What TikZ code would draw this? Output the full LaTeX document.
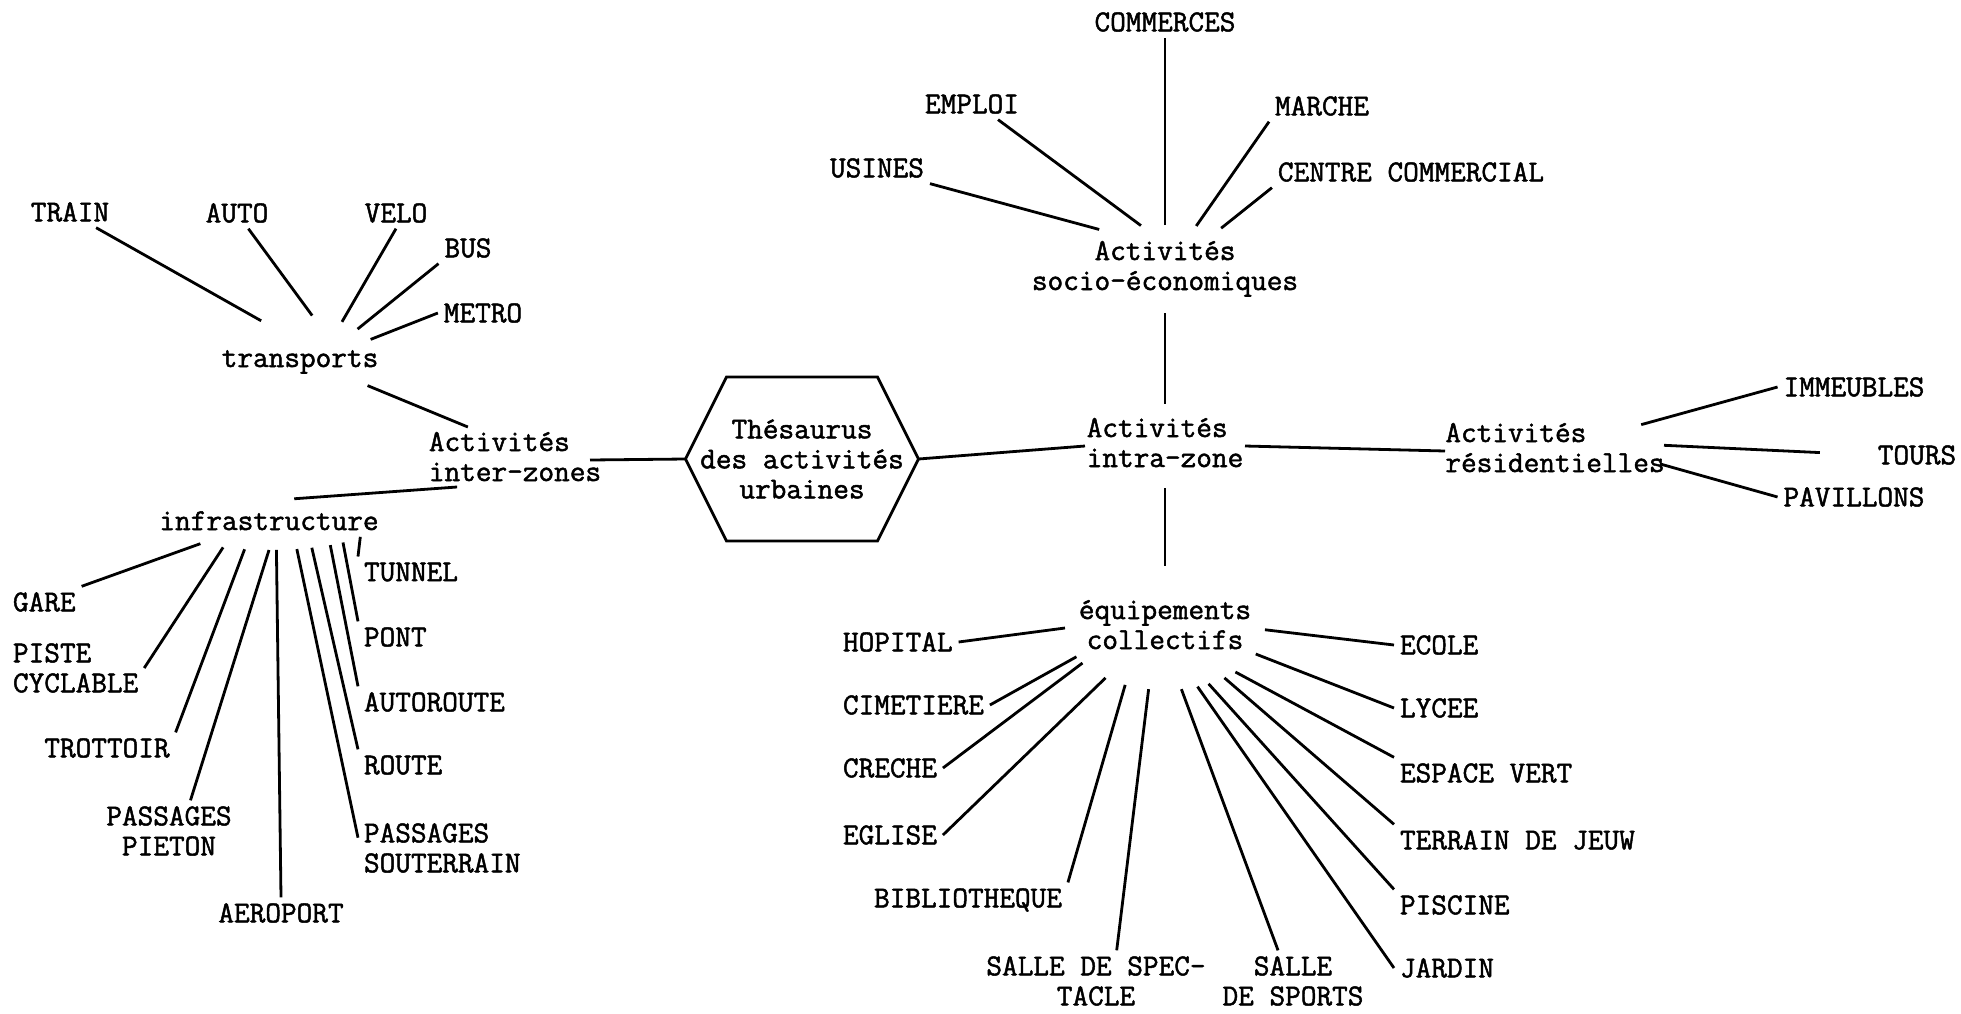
\documentclass[tikz,border=0pt]{standalone}
\usepackage{fontspec}
\newfontfamily\typewriter[FakeBold=1.6]{Latin Modern Mono}
\usetikzlibrary{shapes.geometric}
\newcommand{\hubtext}[2][c]{\makebox[0pt]{\begin{tabular}{@{}#1@{}}#2\end{tabular}}}

\begin{document}
\begin{tikzpicture}[x=0.5pt,y=0.5pt,yscale=-1,xscale=1,
  every node/.style={font=\fontsize{15.2}{15}\typewriter, outer sep=0pt},
  leaf/.style={inner sep=3pt},
  hub/.style={ellipse, inner sep=0pt},
  link/.style={line width=1.4pt},
  thinlink/.style={line width=0.9pt}]
\useasboundingbox (0,0) rectangle (1961,1013);

% Text Node
\node[hub, minimum width=80pt, minimum height=46pt] (transports) at (300,361) {\hubtext{transports}};
% Text Node
\node[hub, minimum width=75pt, minimum height=40pt] (inter) at (515,460) {\hubtext[l]{Activités\\inter-zones}};
% Text Node
\node[hub, minimum width=105pt, minimum height=26pt] (infra) at (269,524) {\hubtext{infrastructure}};
% Text Node
\node[minimum width=116.5pt, minimum height=82pt, align=center] (thes) at (802,459) {Thésaurus\\des activités\\urbaines};
% Text Node
\node[hub, minimum width=150pt, minimum height=44pt] (socio) at (1165,269) {\hubtext{Activités\\socio-économiques}};
% Text Node
\node[hub, minimum width=80pt, minimum height=37pt] (intra) at (1165,446) {\hubtext[l]{Activités\\intra-zone}};
% Text Node
\node[hub, minimum width=110pt, minimum height=30pt] (resid) at (1555,451) {\hubtext[l]{Activités\\résidentielles}};
% Text Node
\node[hub, minimum width=100pt, minimum height=62pt] (equip) at (1165,628) {\hubtext{équipements\\collectifs}};

% Text Node
\node[leaf] (train) at (70,212) {TRAIN};
\node[leaf] (auto) at (237,213) {AUTO};
\node[leaf] (velo) at (396,213) {VELO};
\node[leaf] (bus) at (468,248) {BUS};
\node[leaf] (metro) at (483,313) {METRO};
% Text Node
\node[leaf, anchor=west] (gare) at (7,602) {GARE};
\node[leaf, anchor=west, align=left] (piste) at (7,668) {PISTE\\CYCLABLE};
\node[leaf] (trottoir) at (107,748) {TROTTOIR};
\node[leaf, align=center] (pieton) at (169,831) {PASSAGES\\PIETON};
\node[leaf] (aeroport) at (281,913) {AEROPORT};
\node[leaf, anchor=west] (tunnel) at (358,572) {TUNNEL};
\node[leaf, anchor=west] (pont) at (358,637) {PONT};
\node[leaf, anchor=west] (autoroute) at (358,702) {AUTOROUTE};
\node[leaf, anchor=west] (route) at (358,765) {ROUTE};
\node[leaf, anchor=west, align=left] (souterrain) at (358,848) {PASSAGES\\SOUTERRAIN};
% Text Node
\node[leaf] (commerces) at (1165,22) {COMMERCES};
\node[leaf] (emploi) at (972,104) {EMPLOI};
\node[leaf] (marche) at (1322,106) {MARCHE};
\node[leaf] (usines) at (877,168) {USINES};
\node[leaf] (centre) at (1411,172) {CENTRE COMMERCIAL};
% Text Node
\node[leaf] (immeubles) at (1854,387) {IMMEUBLES};
\node[leaf] (tours) at (1917,455) {TOURS};
\node[leaf] (pavillons) at (1854,497) {PAVILLONS};
% Text Node
\node[leaf, anchor=west] (hopital) at (837,642) {HOPITAL};
\node[leaf, anchor=west] (cimetiere) at (837,705) {CIMETIERE};
\node[leaf, anchor=west] (creche) at (837,768) {CRECHE};
\node[leaf, anchor=west] (eglise) at (837,835) {EGLISE};
\node[leaf] (biblio) at (968,900) {BIBLIOTHEQUE};
\node[leaf, align=center] (spectacle) at (1096,981) {SALLE DE SPEC-\\TACLE};
\node[leaf, align=center] (sports) at (1293,981) {SALLE\\DE SPORTS};
\node[leaf, anchor=west] (ecole) at (1394,645) {ECOLE};
\node[leaf, anchor=west] (lycee) at (1394,708) {LYCEE};
\node[leaf, anchor=west] (espace) at (1394,773) {ESPACE VERT};
\node[leaf, anchor=west] (terrain) at (1394,840) {TERRAIN DE JEUW};
\node[leaf, anchor=west] (piscine) at (1394,905) {PISCINE};
\node[leaf, anchor=west] (jardin) at (1394,968) {JARDIN};

%Shape: Hexagon
\draw[link] (thes.west) -- ([xshift=20.5pt]thes.north west) -- ([xshift=-20.5pt]thes.north east) -- (thes.east) -- ([xshift=-20.5pt]thes.south east) -- ([xshift=20.5pt]thes.south west) -- cycle;

%Straight Lines
\draw[link] (transports.134) -- (train.-31);
\draw[link] (transports.75) -- (auto.-54);
\draw[link] (transports.43) -- (velo.south);
\draw[link] (transports.29) -- (bus.south west);
\draw[link] (transports.17) -- (metro.west);
\draw[link] (transports.-20) -- (inter.145);
\draw[link] (inter.205) -- (infra.45);
\draw[link] (inter.east) -- (thes.west);
%Straight Lines
\draw[link] (infra.196) -- (gare.north east);
\draw[link] (infra.207) -- (piste.east);
\draw[link] (infra.226) -- (trottoir.north east);
\draw[link] (infra.270) -- (pieton.55);
\draw[link] (infra.286) -- (aeroport.north);
\draw[link] (infra.318) -- (souterrain.173);
\draw[link] (infra.331) -- (route.north west);
\draw[link] (infra.341) -- (autoroute.north west);
\draw[link] (infra.346) -- (pont.north west);
\draw[link] (infra.352) -- (tunnel.north west);
%Straight Lines
\draw[thinlink] (socio.north) -- (commerces.south);
\draw[link] (socio.119) -- (emploi.-31);
\draw[link] (socio.149) -- (usines.south east);
\draw[link] (socio.54) -- (marche.south west);
\draw[link] (socio.36) -- (centre.south west);
\draw[thinlink] (socio.south) -- (intra.north);
\draw[thinlink] (intra.south) -- (equip.north);
\draw[link] (thes.east) -- (intra.west);
\draw[link] (intra.east) -- (resid.west);
%Straight Lines
\draw[link] (resid.17) -- (immeubles.west);
\draw[link, shorten >=26pt] (resid.3) -- (tours.west);
\draw[link] (resid.-7) -- (pavillons.west);
%Straight Lines
\draw[link] (equip.180) -- (hopital.east);
\draw[link] (equip.198) -- (cimetiere.east);
\draw[link] (equip.203) -- (creche.east);
\draw[link] (equip.220) -- (eglise.east);
\draw[link] (equip.235) -- (biblio.north east);
\draw[link] (equip.255) -- (spectacle.56);
\draw[link] (equip.285) -- (sports.116);
\draw[link] (equip.299) -- (jardin.west);
\draw[link] (equip.308) -- (piscine.north west);
\draw[link] (equip.320) -- (terrain.north west);
\draw[link] (equip.328) -- (espace.north west);
\draw[link] (equip.344) -- (lycee.west);
\draw[link] (equip.359) -- (ecole.west);

\end{tikzpicture}
\end{document}
